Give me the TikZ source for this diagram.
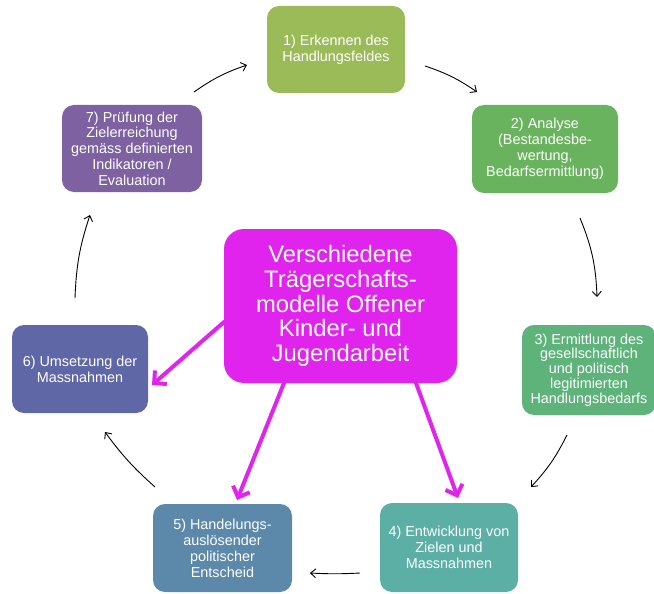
\documentclass[tikz,border=0pt]{standalone}
\usepackage{fontspec}
\setmainfont{Liberation Sans}
\usetikzlibrary{arrows.meta}
\definecolor{cA}{HTML}{9BBB59}
\definecolor{cB}{HTML}{6AB35E}
\definecolor{cC}{HTML}{5DB37A}
\definecolor{cD}{HTML}{5BAFA4}
\definecolor{cE}{HTML}{5C88A9}
\definecolor{cF}{HTML}{5F67A6}
\definecolor{cG}{HTML}{7D61A1}
\definecolor{cM}{HTML}{E024EE}
\tikzset{
  stepbox/.style={rounded corners=12pt, draw=none, text=white, align=center,
    inner sep=0pt, font=\fontsize{14.4}{16}\selectfont},
  centerbox/.style={rounded corners=20pt, fill=cM, text=white, align=center,
    inner sep=0pt, minimum width=233pt, minimum height=154pt,
    font=\fontsize{23.8}{24.6}\selectfont},
  cyc/.style={black, line width=0.9pt, -{Straight Barb[length=5pt,width=9pt]}},
  mag/.style={cM, line width=4pt, line cap=round, -{Straight Barb[length=9pt,width=18pt,line width=4pt]}}
}
\begin{document}
\begin{tikzpicture}[x=1pt,y=-1pt]
\useasboundingbox (0,0) rectangle (654,594);
\node[stepbox, fill=cA, minimum width=138pt, minimum height=87pt] (b1) at (336,49.5) {1) Erkennen des\\Handlungsfeldes};
\node[stepbox, fill=cB, minimum width=146pt, minimum height=88pt] (b2) at (545,149) {2) Analyse\\(Bestandesbe-\\wertung,\\Bedarfsermittlung)};
\node[stepbox, fill=cC, minimum width=134pt, minimum height=90pt, font=\fontsize{14.4}{14.8}\selectfont] (b3) at (589,370) {3) Ermittlung des\\gesellschaftlich\\und politisch\\legitimierten\\Handlungsbedarfs};
\node[stepbox, fill=cD, minimum width=138pt, minimum height=89pt] (b4) at (449,547.5) {4) Entwicklung von\\Zielen und\\Massnahmen};
\node[stepbox, fill=cE, minimum width=139pt, minimum height=88pt] (b5) at (222.5,548) {5) Handelungs-\\auslösender\\politischer\\Entscheid};
\node[stepbox, fill=cF, minimum width=136pt, minimum height=88pt] (b6) at (80,369) {6) Umsetzung der\\Massnahmen};
\node[stepbox, fill=cG, minimum width=140pt, minimum height=87pt, font=\fontsize{14.4}{15.7}\selectfont] (b7) at (132,148.5) {7) Prüfung der\\Zielerreichung\\gemäss definierten\\Indikatoren /\\Evaluation};
\node[centerbox] (c) at (340.5,306) {Verschiedene\\Trägerschafts-\\modelle Offener\\Kinder- und\\Jugendarbeit};

% cycle arrows
\coordinate (a71) at (194,92);  \coordinate (a71e) at (247,65);
\coordinate (a12) at (425,66);  \coordinate (a12e) at (477,92);
\coordinate (a23) at (580,218); \coordinate (a23e) at (597,297);
\coordinate (a34) at (567,435); \coordinate (a34e) at (531,487);
\coordinate (a45) at (360,573); \coordinate (a45e) at (310,573);
\coordinate (a56) at (155,487); \coordinate (a56e) at (105,432);
\coordinate (a67) at (75,298);  \coordinate (a67e) at (90,215);
\draw[cyc] (a71) to[bend left=8] (a71e);
\draw[cyc] (a12) to[bend left=8] (a12e);
\draw[cyc] (a23) to[bend left=10] (a23e);
\draw[cyc] (a34) to[bend left=8] (a34e);
\draw[cyc] (a45) to[bend left=3] (a45e);
\draw[cyc] (a56) to[bend left=6] (a56e);
\draw[cyc] (a67) to[bend left=8] (a67e);

% magenta arrows
\coordinate (m6s) at (224,322); \coordinate (m6e) at (152,385);
\coordinate (m5s) at (284,383); \coordinate (m5e) at (237,500);
\coordinate (m4s) at (416,383); \coordinate (m4e) at (458,498);
\draw[mag] (m6s) -- (m6e);
\draw[mag] (m5s) -- (m5e);
\draw[mag] (m4s) -- (m4e);
\end{tikzpicture}
\end{document}
